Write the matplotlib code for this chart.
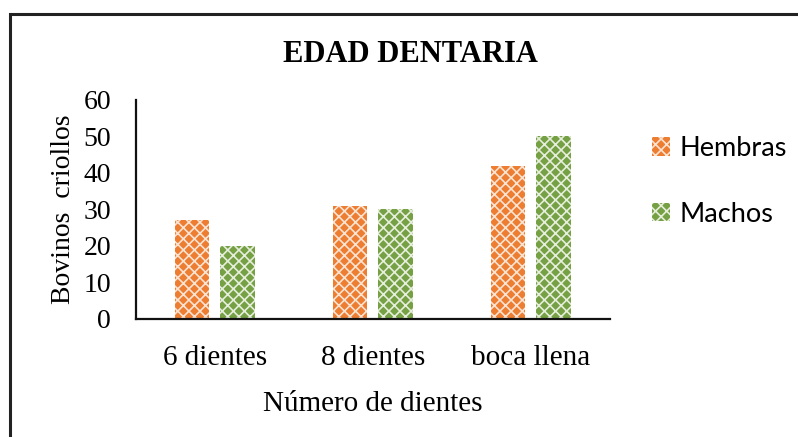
import matplotlib
matplotlib.use("Agg")
import matplotlib.pyplot as plt
import numpy as np
from matplotlib.patches import Rectangle

categories = ["6 dientes", "8 dientes", "boca llena"]
hembras = [27, 31, 42]
machos = [20, 30, 50]
series_names = ["Hembras", "Machos"]

plt.rcParams["hatch.linewidth"] = 1.2

fig = plt.figure(figsize=(7.98, 4.37), dpi=100)
ax = fig.add_axes([136 / 798, 1 - 319 / 437, 474 / 798, 219 / 437])

x = np.arange(len(categories))
w = 0.22
ax.bar(x - 0.145, hembras, w, color="#ED7D31", edgecolor="#FBE3D2",
       hatch="xxx", linewidth=0, label=series_names[0])
ax.bar(x + 0.14, machos, w, color="#76A044", edgecolor="#E6EEDC",
       hatch="xxx", linewidth=0, label=series_names[1])

ax.set_xlim(-0.5, 2.5)
ax.set_ylim(0, 60)
ax.set_yticks(range(0, 61, 10))
ax.set_xticks(x)
ax.set_xticklabels(categories)

serif = "Liberation Serif"
ax.tick_params(length=0)
ax.tick_params(axis="y", labelsize=20, pad=18)
ax.tick_params(axis="x", labelsize=21, pad=19)
for lab in ax.get_xticklabels() + ax.get_yticklabels():
    lab.set_fontfamily(serif)

ax.set_xlabel("Número de dientes", fontsize=21, fontfamily=serif, labelpad=14)
ax.set_ylabel("Bovinos  criollos", fontsize=20, fontfamily=serif, labelpad=5)

for side in ["top", "right"]:
    ax.spines[side].set_visible(False)
for side in ["left", "bottom"]:
    ax.spines[side].set_linewidth(1.6)
    ax.spines[side].set_color("#111111")

fig.text(410 / 798, 1 - 54 / 437, "EDAD DENTARIA", fontsize=22,
         fontweight="bold", fontfamily=serif, ha="center", va="center")

leg = ax.legend(loc="upper left", bbox_to_anchor=(652 / 798, 1 - 136 / 437),
                bbox_transform=fig.transFigure, frameon=False,
                prop={"family": "Lato", "size": 19.5},
                handlelength=0.65, handleheight=0.65, handletextpad=0.35,
                labelspacing=1.5, borderpad=0, borderaxespad=0)

# chart area border (left and top edges fall inside the canvas)
fig.patches.append(Rectangle((9.5 / 798, -0.1), 1.2, 1.1 - 14.5 / 437,
                             transform=fig.transFigure, fill=False,
                             edgecolor="#222222", linewidth=2.2))

fig.savefig("out.png", dpi=100)
